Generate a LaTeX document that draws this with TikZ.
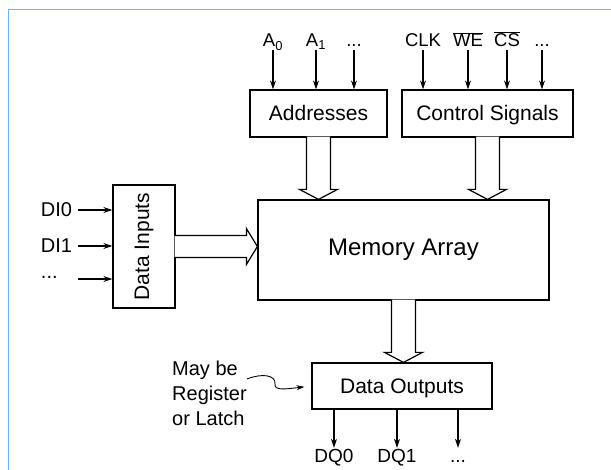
\documentclass[tikz,border=0pt]{standalone}
\usepackage{fontspec}
\setmainfont{Liberation Sans}
\usepackage{tikz}
\usetikzlibrary{arrows.meta,calc}
\definecolor{framecol}{RGB}{105,178,245}

\begin{document}
\begin{tikzpicture}[x=1pt,y=-1pt,
  blk/.style={draw,line width=1.2pt,inner sep=0pt,text height=15pt,text depth=0pt,font=\fontsize{21}{25}\selectfont},
  pin/.style={inner sep=3pt,text height=13pt,text depth=0pt,font=\fontsize{18.5}{22}\selectfont},
  inp/.style={inner sep=3pt,text width=34pt,align=left,text height=14pt,text depth=0pt,font=\fontsize{20}{24}\selectfont},
  outp/.style={inner sep=1pt,text height=14pt,text depth=0pt,font=\fontsize{19}{23}\selectfont},
  sig/.style={line width=1.1pt,-{Stealth[length=9pt,width=6pt]}},
  bus/.style={draw,fill=white,line width=1.2pt,line join=miter},
  frame/.style={draw=framecol,line width=1.6pt}]
\useasboundingbox (0,0) rectangle (611,470);
\draw[frame] (611,9.5) -- (8.5,9.5) -- (8.5,470);

% blocks
\node[blk,minimum width=137pt,minimum height=47pt] (addr) at (318.5,113.5) {Addresses};
\node[blk,minimum width=171pt,minimum height=47pt] (ctrl) at (487.5,113.5) {Control Signals};
\node[blk,minimum width=291pt,minimum height=100pt,text height=17pt,text depth=5.8pt,
  font=\fontsize{24}{28}\selectfont] (mem) at (403.5,250) {Memory Array};
\node[blk,minimum width=62pt,minimum height=123pt,
  label={[rotate=90,font=\fontsize{21}{25}\selectfont]center:Data Inputs}] (din) at (144,246.5) {};
\node[blk,minimum width=180pt,minimum height=46pt] (dout) at (402,386) {Data Outputs};

% pins on top
\node[pin] (a0) at (273,40.5) {A\textsubscript{0}};
\node[pin] (a1) at (316,40.5) {A\textsubscript{1}};
\node[pin] (a2) at (354,40.5) {...};
\node[pin] (clk) at (423,40.5) {CLK};
\node[pin] (we) at (468,40.5) {$\overline{\mbox{WE}}$};
\node[pin] (cs) at (507,40.5) {$\overline{\mbox{CS}}$};
\node[pin] (c3) at (542,40.5) {...};
\foreach \p/\b in {a0/addr,a1/addr,a2/addr,clk/ctrl,we/ctrl,cs/ctrl,c3/ctrl}
  \draw[sig] (\p) -- (\p |- \b.north);

% data inputs
\node[inp] (di0) at (58,210) {DI0};
\node[inp] (di1) at (58,246) {DI1};
\node[inp,anchor=base] (dimore) at (58,279) {...};
\foreach \d in {di0,di1}
  \draw[sig] (\d.east) -- (\d.east -| din.west);
\draw[sig] (dimore.base east) -- (dimore.base east -| din.west);

% wide buses
\foreach \src/\dst in {addr/mem,ctrl/mem,mem/dout}
  \draw[bus] let \p1=(\src.south), \p2=(\dst.north) in
    (\x1-12pt,\y1+1pt) -- (\x1-12pt,\y2+10pt) -- (\x1-19pt,\y2+10pt) -- (\x1,\y2)
    -- (\x1+19pt,\y2+10pt) -- (\x1+12pt,\y2+10pt) -- (\x1+12pt,\y1+1pt);
\draw[bus] let \p1=(din.east), \p2=(mem.west) in
  (\x1-1pt,\y1+11pt) -- (\x2-11pt,\y1+11pt) -- (\x2-11pt,\y1+18pt) -- (\x2,\y1)
  -- (\x2-11pt,\y1-18pt) -- (\x2-11pt,\y1-11pt) -- (\x1-1pt,\y1-11pt);

% data outputs
\node[outp] (dq0) at (334,456) {DQ0};
\node[outp] (dq1) at (397,456) {DQ1};
\node[outp] (dqmore) at (458,456) {...};
\foreach \q in {dq0,dq1,dqmore}
  \draw[sig] (\q |- dout.south) -- (\q.north);

% note
\node[font=\fontsize{20}{25}\selectfont,align=left,anchor=west,inner sep=0pt] (note) at (172,393) {May be\\Register\\or Latch};
\coordinate (noteout) at (247,379);
\draw[line width=0.9pt,-{Stealth[length=8pt,width=5pt]},shorten >=7pt] (noteout)
  .. controls (262,373) and (276,375) .. (275,384)
  .. controls (274,391) and (286,389) .. (dout.west);
\end{tikzpicture}
\end{document}
